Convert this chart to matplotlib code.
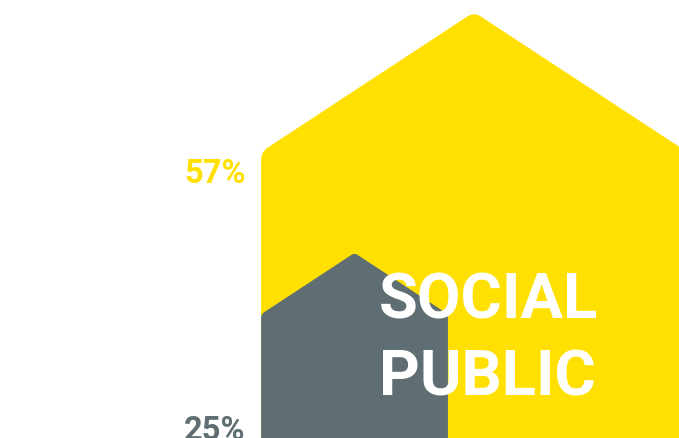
import matplotlib
matplotlib.use("Agg")
import matplotlib.pyplot as plt
from matplotlib.path import Path
from matplotlib.patches import PathPatch
import numpy as np

# Shares shown as nested house shapes
categories = ["SOCIAL", "PUBLIC"]
values = [57, 25]
labels = ["57%", "25%"]
colors = ["#FFE000", "#5F6E72"]

# House proportions relative to its height (value)
WIDTH_RATIO = 0.993
EAVE_RATIO = 0.674
ROUND_RATIO = 0.018
X0 = 34.7


def rounded_polygon(pts, radii):
    """Closed path through pts with quadratic-rounded corners."""
    pts = np.asarray(pts, float)
    n = len(pts)
    verts, codes = [], []
    for i in range(n):
        p = pts[i]
        prev_p = pts[i - 1]
        next_p = pts[(i + 1) % n]
        r = radii[i]
        d1 = (prev_p - p) / np.linalg.norm(prev_p - p)
        d2 = (next_p - p) / np.linalg.norm(next_p - p)
        a = p + d1 * r
        b = p + d2 * r
        if i == 0:
            verts.append(a); codes.append(Path.MOVETO)
        else:
            verts.append(a); codes.append(Path.LINETO)
        verts += [p, b]
        codes += [Path.CURVE3, Path.CURVE3]
    verts.append(verts[0]); codes.append(Path.CLOSEPOLY)
    return Path(verts, codes)


def house(v):
    w = v * WIDTH_RATIO
    e = v * EAVE_RATIO
    pts = [(X0, -5), (X0, e), (X0 + w / 2, v), (X0 + w, e), (X0 + w, -5)]
    r = v * ROUND_RATIO
    return rounded_polygon(pts, [0.001, r, r, r, 0.001])


fig = plt.figure(figsize=(6.79, 4.38), dpi=100)
ax = fig.add_axes([0, 0, 1, 1])
ax.set_xlim(0, 679 / 7.525)
ax.set_ylim(3 / 7.525, 441 / 7.525)
ax.axis("off")

for v, c in zip(values, colors):
    ax.add_patch(PathPatch(house(v), facecolor=c, edgecolor="none"))

label_y = [34.3, 0.13]
for lab, y, c in zip(labels, label_y, colors):
    ax.text(32.6, y, lab, color=c, fontsize=23.5, fontweight="bold",
            family="Roboto", ha="right", va="baseline")

text_y = [16.3, 6.1]
for cat, y in zip(categories, text_y):
    ax.text(50.3, y, cat, color="white", fontsize=45.5, fontweight="bold",
            family="Roboto", ha="left", va="baseline")

fig.savefig("out.png", dpi=100)
